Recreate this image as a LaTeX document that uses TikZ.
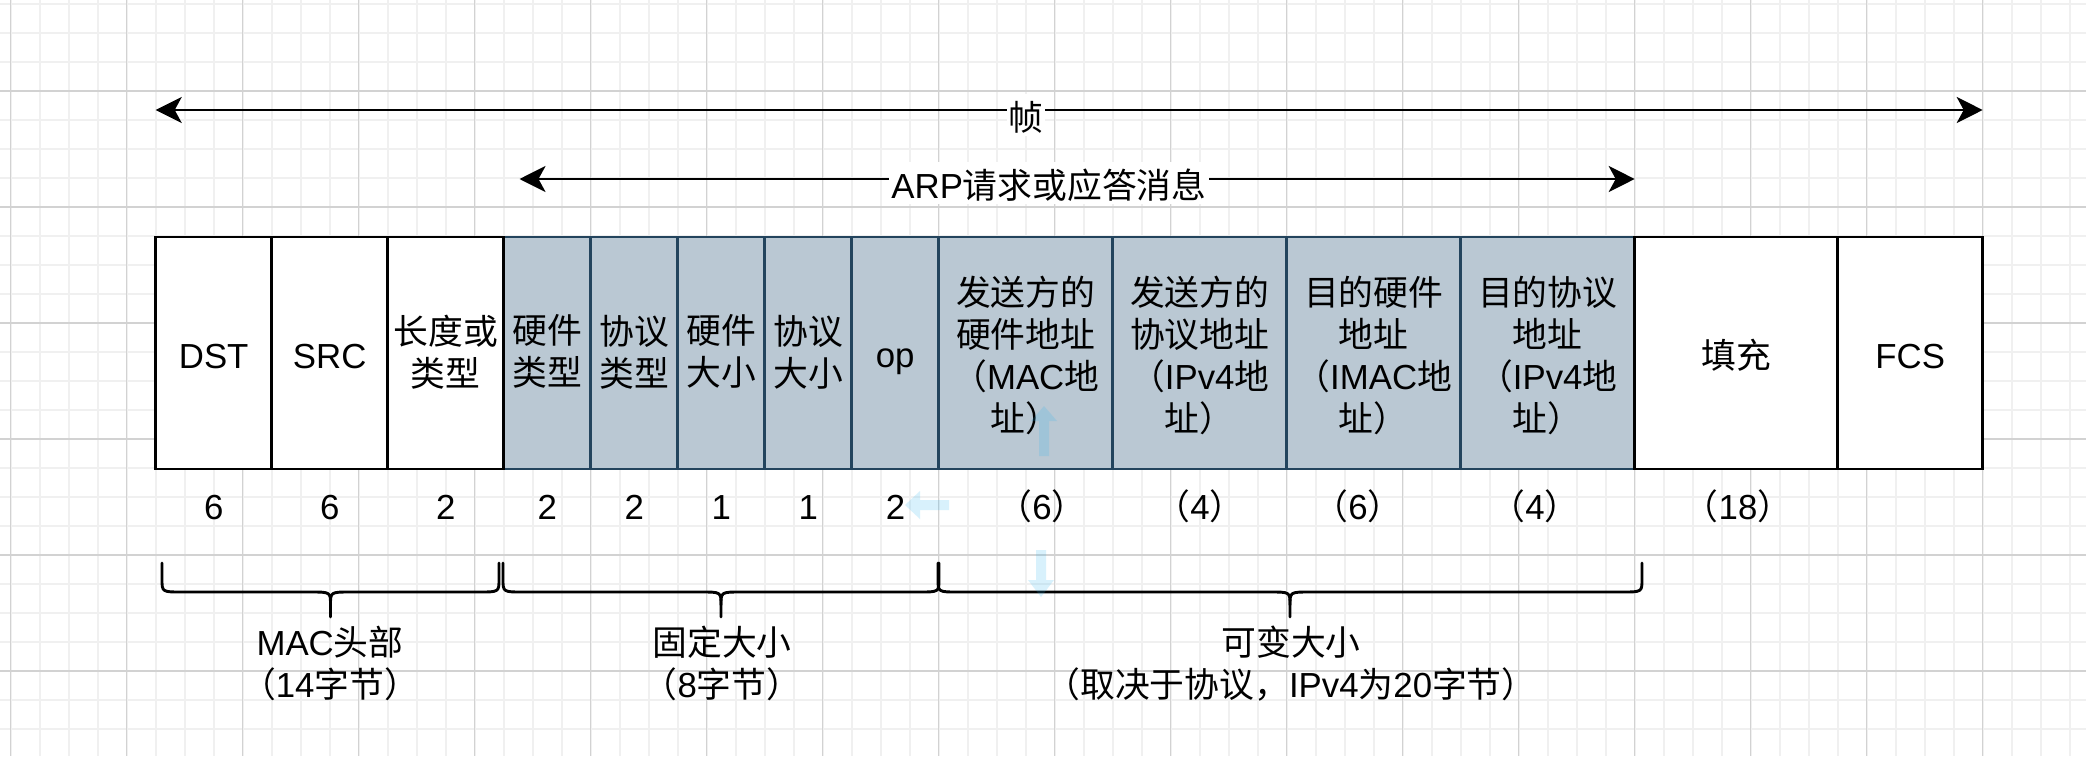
\documentclass[tikz,border=0pt]{standalone}
\usepackage{fontspec}
\setmainfont{Liberation Sans}
\newfontfamily\cjk{Noto Sans CJK SC}
\usetikzlibrary{arrows.meta}
\definecolor{gridminor}{HTML}{F0F0F0}
\definecolor{gridmajor}{HTML}{D2D2D2}
\definecolor{arpfill}{HTML}{BAC8D3}
\definecolor{arpline}{HTML}{23445D}
\definecolor{hovercol}{HTML}{29B6F2}
\newcommand\zh[1]{{\cjk #1}}
\newcommand\lnst{\rule[-5.2pt]{0pt}{42pt}}
\newcommand\drawbrace[3]{%
  \draw[bracestyle] (#1,563) -- (#1,579) .. controls (#1,592) .. ({#1+20},592)
    -- ({#2-20},592) .. controls (#2,592) .. (#2,605) -- (#2,617);
  \draw[bracestyle] (#3,563) -- (#3,579) .. controls (#3,592) .. ({#3-20},592)
    -- ({#2+20},592) .. controls (#2,592) .. (#2,605);
}
\begin{document}
\begin{tikzpicture}[x=1pt,y=-1pt,
  txt/.style={font=\fontsize{34.8pt}{42pt}\selectfont, align=center, inner sep=0pt, outer sep=0pt,
    execute at begin node=\lnst, execute at end node=\lnst},
  wcell/.style={txt, draw=black, fill=white, line width=2.9pt, minimum height=232pt},
  bcell/.style={txt, draw=arpline, fill=arpfill, line width=2.9pt, minimum height=232pt},
  span/.style={line width=2.9pt, {Stealth[length=26pt,width=26pt,inset=7pt]}-{Stealth[length=26pt,width=26pt,inset=7pt]}},
  arrlabel/.style={txt, fill=white, inner xsep=2pt},
  bracestyle/.style={line width=2.9pt, line cap=round, line join=round},
  hoverarrow/.style={fill=hovercol, fill opacity=0.18, draw=none}
]
\useasboundingbox (0,0) rectangle (2086,756);
\fill[white] (0,0) rectangle (2086,756);
% grid
\foreach \i in {0,...,71} \draw[gridminor, line width=1.6pt] ({10.7+29*\i},0) -- ({10.7+29*\i},756);
\foreach \j in {0,...,25} \draw[gridminor, line width=1.6pt] (0,{4+29*\j}) -- (2086,{4+29*\j});
\foreach \i in {0,...,17} \draw[gridmajor, line width=1.1pt] ({10.7+116*\i},0) -- ({10.7+116*\i},756);
\foreach \j in {0,...,5} \draw[gridmajor, line width=1.1pt] (0,{91+116*\j}) -- (2086,{91+116*\j});

% span arrows
\coordinate (fl) at (155.7,110);
\coordinate (fr) at (1982.7,110);
\draw[span] (fl) -- (fr);
\node[arrlabel] (frame) at (1026,115) {\zh{帧}};
\coordinate (al) at (519.5,179);
\coordinate (ar) at (1634.7,179);
\draw[span] (al) -- (ar);
\node[arrlabel] (arp) at (1049,183) {ARP\zh{请求或应答消息}};

% ARP cells
\node[bcell, minimum width=87pt] (hwt) at (547.2,353) {\zh{硬件}\\\zh{类型}};
\node[bcell, minimum width=87pt] (prt) at (634.2,353) {\zh{协议}\\\zh{类型}};
\node[bcell, minimum width=87pt] (hws) at (721.2,353) {\zh{硬件}\\\zh{大小}};
\node[bcell, minimum width=87pt] (prs) at (808.2,353) {\zh{协议}\\\zh{大小}};
\node[bcell, minimum width=87pt] (op) at (895.2,353) {op};
\node[bcell, minimum width=174pt] (sha) at (1025.7,353) {};
\node[bcell, minimum width=174pt] (spa) at (1199.7,353) {};
\node[bcell, minimum width=174pt] (tha) at (1373.7,353) {};
\node[bcell, minimum width=174pt] (tpa) at (1547.7,353) {};
\node[txt] (shat) at (1025.7,356) {\zh{发送方的}\\\zh{硬件地址}\\\zh{（}MAC\zh{地}\\\zh{址）}};
\node[txt] (spat) at (1199.7,356) {\zh{发送方的}\\\zh{协议地址}\\\zh{（}IPv4\zh{地}\\\zh{址）}};
\node[txt] (that) at (1373.7,356) {\zh{目的硬件}\\\zh{地址}\\\zh{（}IMAC\zh{地}\\\zh{址）}};
\node[txt] (tpat) at (1547.7,356) {\zh{目的协议}\\\zh{地址}\\\zh{（}IPv4\zh{地}\\\zh{址）}};
% frame cells
\node[wcell, minimum width=116pt] (dst) at (213.7,353) {DST};
\node[wcell, minimum width=116pt] (src) at (329.7,353) {SRC};
\node[wcell, minimum width=116pt] (len) at (445.7,353) {\zh{长度或}\\\zh{类型}};
\node[wcell, minimum width=203pt] (pad) at (1736.2,353) {\zh{填充}};
\node[wcell, minimum width=145pt] (fcs) at (1910.2,353) {FCS};

% sizes
\node[txt] (s1) at (213.7,504) {6};
\node[txt] (s2) at (329.7,504) {6};
\node[txt] (s3) at (445.7,504) {2};
\node[txt] (s4) at (547.2,504) {2};
\node[txt] (s5) at (634.2,504) {2};
\node[txt] (s6) at (721.2,504) {1};
\node[txt] (s7) at (808.2,504) {1};
\node[txt] (s8) at (895.5,504) {2};
\node[txt] (s9) at (1042,504) {\zh{（}6\zh{）}};
\node[txt] (s10) at (1200,504) {\zh{（}4\zh{）}};
\node[txt] (s11) at (1358,504) {\zh{（}6\zh{）}};
\node[txt] (s12) at (1535,504) {\zh{（}4\zh{）}};
\node[txt] (s13) at (1738,504) {\zh{（}18\zh{）}};

% braces
\drawbrace{162}{330.5}{499}
\drawbrace{503}{721}{939}
\drawbrace{938}{1290}{1642}
\node[txt] (lmac) at (330,664) {MAC\zh{头部}\\\zh{（}14\zh{字节）}};
\node[txt] (lfix) at (722,664) {\zh{固定大小}\\\zh{（}8\zh{字节）}};
\node[txt] (lvar) at (1291,664) {\zh{可变大小}\\\zh{（取决于协议，}IPv4\zh{为}20\zh{字节）}};

% faint hover arrows
\fill[hoverarrow] (1044,406) -- (1057,421) -- (1049,421) -- (1049,456) -- (1039,456) -- (1039,421) -- (1031,421) -- cycle;
\fill[hoverarrow] (905,505) -- (920,491) -- (920,500) -- (949,500) -- (949,510) -- (920,510) -- (920,519) -- cycle;
\fill[hoverarrow] (1041,597) -- (1054,580) -- (1046,580) -- (1046,550) -- (1036,550) -- (1036,580) -- (1028,580) -- cycle;
\end{tikzpicture}
\end{document}
